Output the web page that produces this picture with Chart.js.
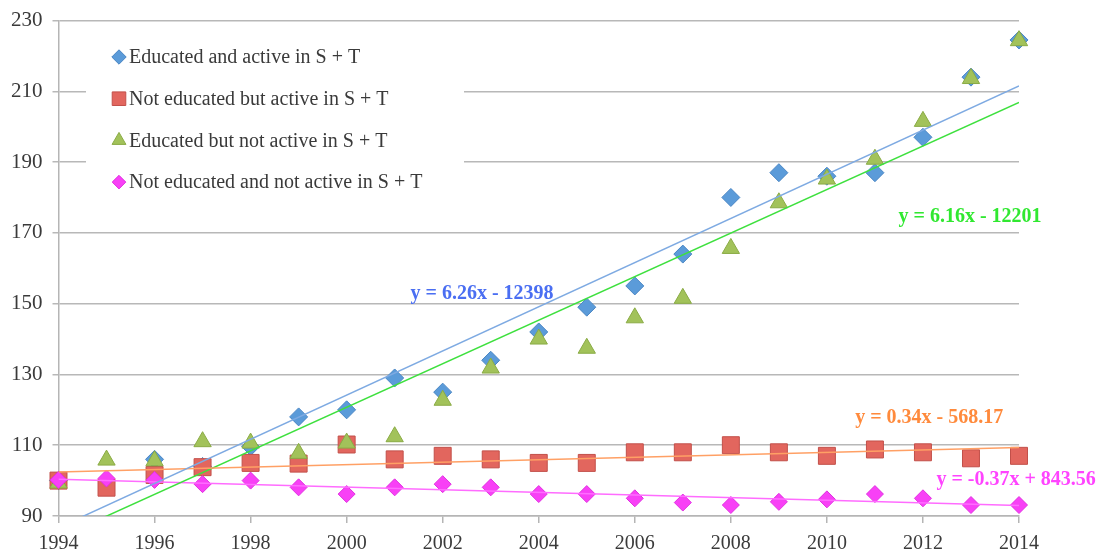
<!DOCTYPE html>
<html>
<head>
<meta charset="utf-8">
<script src="https://cdn.jsdelivr.net/npm/chart.js@4.4.1/dist/chart.umd.min.js"></script>
<style>
  html, body { margin: 0; padding: 0; background: #fff; }
  #wrap { width: 1108px; height: 551px; position: relative; }
</style>
</head>
<body>
<div id="wrap"><canvas id="myChart"></canvas></div>
<script>
// values
const years = [1994, 1995, 1996, 1997, 1998, 1999, 2000, 2001, 2002, 2003, 2004,
               2005, 2006, 2007, 2008, 2009, 2010, 2011, 2012, 2013, 2014];
const eduActive = [100, 100, 106, 104, 109.6, 118, 120, 129, 125, 134, 142,
                   149, 155, 164, 180, 187, 186, 187, 197, 214, 224.5];
const notEduActive = [100, 98, 101.6, 103.8, 105, 104.8, 110.2, 106, 107, 106, 105,
                      105, 108, 108, 110, 108, 107, 108.8, 108, 106.3, 107];
const eduNotActive = [99.3, 105.8, 105.6, 111, 110.6, 107.7, 110.6, 112.4, 122.7, 131.8, 140,
                      137.4, 146, 151.5, 165.6, 178.5, 185.2, 190.8, 201.5, 213.6, 224.3];
const notEduNotActive = [100.2, 100.6, 100.2, 99, 100, 98.1, 96.2, 98.1, 99, 98.1, 96.2,
                         96.2, 95, 93.8, 93.1, 94, 94.7, 96.2, 95, 93.1, 93.1];

const seriesNames = ['Educated and active in S + T', 'Not educated but active in S + T',
                     'Educated but not active in S + T', 'Not educated and not active in S + T'];
const trendTexts = ['y = 6.26x - 12398', 'y = 0.34x - 568.17', 'y = 6.16x - 12201', 'y = -0.37x + 843.56'];

const allSeries = [eduActive, notEduActive, eduNotActive, notEduNotActive];
const markerFill = ['#5b9bd9', '#e2665e', '#a2c25a', '#f840f6'];
const markerBorder = ['#4a86c4', '#c2504a', '#8aab45', '#e030e0'];
const markerStyle = ['rectRot', 'rect', 'triangle', 'rectRot'];
const markerRadius = [9, 12, 10, 8.5];
const trendColor = ['#7eaae2', '#ffa065', '#3ee03e', '#ff6cff'];
const textColor = ['#4a6ef2', '#ff8a3c', '#30e830', '#ff44ff'];
// where each equation is written (centre, in data units)
const labelAt = [[2002.82, 152.9], [2012.13, 117.7], [2012.98, 174.4], [2013.94, 100.2]];

function fit(xs, ys) {
    const n = xs.length;
    let sx = 0, sy = 0, sxx = 0, sxy = 0;
    for (let i = 0; i < n; i++) {
        sx += xs[i]; sy += ys[i]; sxx += xs[i] * xs[i]; sxy += xs[i] * ys[i];
    }
    const a = (n * sxy - sx * sy) / (n * sxx - sx * sx);
    return [a, (sy - a * sx) / n];
}

const datasets = [];
allSeries.forEach(function (ys, i) {
    datasets.push({
        type: 'scatter',
        label: seriesNames[i],
        data: years.map((y, j) => ({ x: y, y: ys[j] })),
        pointStyle: markerStyle[i],
        pointRadius: markerRadius[i],
        pointHoverRadius: markerRadius[i],
        backgroundColor: markerFill[i],
        borderColor: markerBorder[i],
        borderWidth: 1,
        clip: false,
        order: 10 - i
    });
});
allSeries.forEach(function (ys, i) {
    const ab = fit(years, ys);
    const x0 = years[0], x1 = years[years.length - 1];
    datasets.push({
        type: 'line',
        label: 'trend' + i,
        data: [{ x: x0, y: ab[0] * x0 + ab[1] }, { x: x1, y: ab[0] * x1 + ab[1] }],
        borderColor: trendColor[i],
        borderWidth: 1.5,
        pointRadius: 0,
        fill: false,
        order: 1
    });
});

const serif = '"Liberation Serif", "DejaVu Serif", serif';

const overlay = {
    id: 'overlay',
    afterDatasetsDraw(chart) {
        const ctx = chart.ctx;
        const xs = chart.scales.x, ys = chart.scales.y;
        ctx.save();
        // equations next to the trend lines
        ctx.font = 'bold 20px ' + serif;
        ctx.textAlign = 'center';
        ctx.textBaseline = 'middle';
        trendTexts.forEach(function (t, i) {
            ctx.fillStyle = textColor[i];
            ctx.fillText(t, xs.getPixelForValue(labelAt[i][0]), ys.getPixelForValue(labelAt[i][1]));
        });
        // legend box inside the plot
        ctx.fillStyle = '#fff';
        ctx.fillRect(86, 30, 378, 174);
        ctx.font = '20px ' + serif;
        ctx.textAlign = 'left';
        for (let i = 0; i < 4; i++) {
            const ly = 57 + i * 41.7;
            ctx.fillStyle = markerFill[i];
            ctx.strokeStyle = markerBorder[i];
            Chart.helpers.drawPoint(ctx, {
                pointStyle: markerStyle[i],
                radius: markerRadius[i] * 0.8,
                rotation: 0,
                borderWidth: 1
            }, 119, ly);
            ctx.fillStyle = '#3a3a3a';
            ctx.fillText(seriesNames[i], 129, ly + 1);
        }
        ctx.restore();
    }
};

const myChart = new Chart(document.getElementById('myChart'), {
    data: { datasets: datasets },
    options: {
        responsive: true,
        maintainAspectRatio: false,
        animation: false,
        layout: { padding: { left: 1, right: 89, top: 20, bottom: 0 } },
        scales: {
            x: {
                type: 'linear',
                min: 1994,
                max: 2014,
                afterFit: function (scale) { scale.height = 35; },
                ticks: {
                    stepSize: 2,
                    callback: v => String(v),
                    color: '#3a3a3a',
                    font: { family: serif, size: 20, lineHeight: 1 },
                    padding: 11,
                    maxRotation: 0
                },
                grid: { drawOnChartArea: false, drawTicks: true, tickLength: 7, color: '#b5b5b5', lineWidth: 1.5 },
                border: { display: true, color: '#b5b5b5', width: 1.5 }
            },
            y: {
                min: 90,
                max: 230,
                ticks: {
                    stepSize: 20,
                    color: '#3a3a3a',
                    font: { family: serif, size: 21, lineHeight: 1 },
                    padding: 10
                },
                grid: { color: '#b8b8b8', lineWidth: 1.5, tickLength: 6 },
                border: { display: true, color: '#b5b5b5', width: 1.5 }
            }
        },
        plugins: {
            legend: { display: false },
            tooltip: { enabled: false }
        }
    },
    plugins: [overlay]
});
</script>
</body>
</html>
